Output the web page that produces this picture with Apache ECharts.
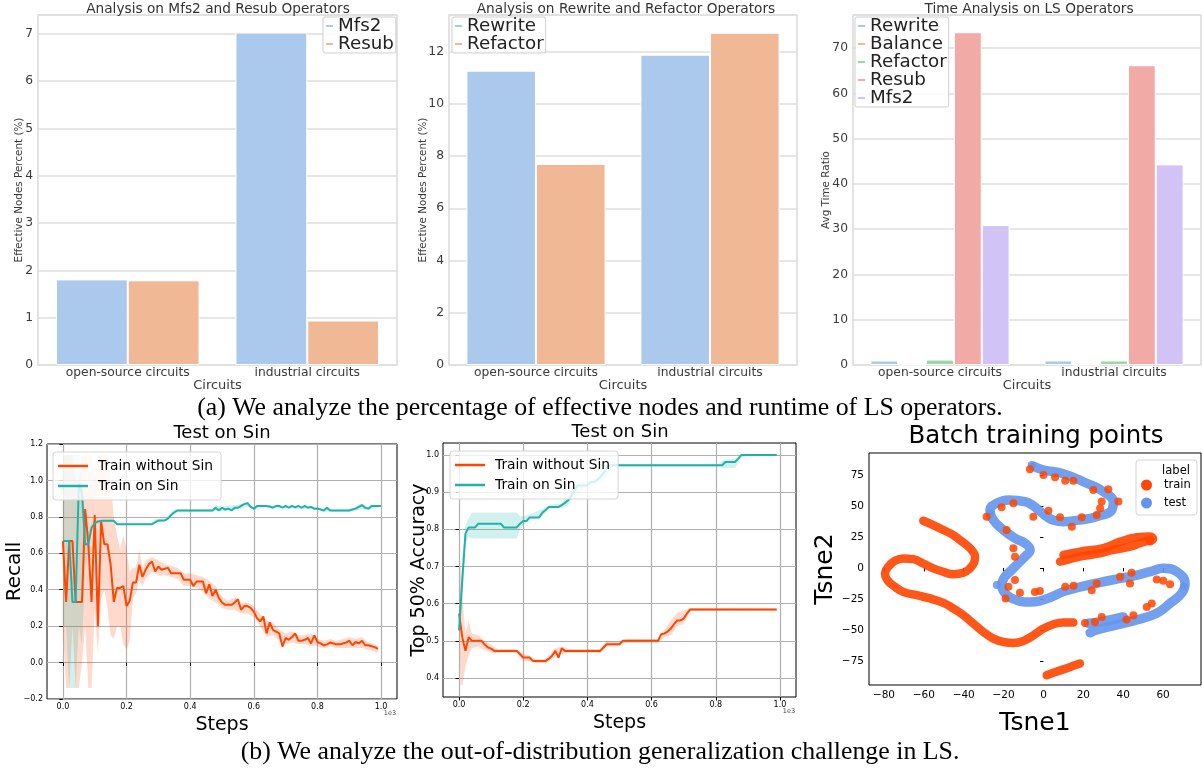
<!DOCTYPE html>
<html><head><meta charset="utf-8">
<script src="https://cdn.jsdelivr.net/npm/echarts@6/dist/echarts.min.js"></script>
<style>html,body{margin:0;padding:0;background:#fff}#c{width:1202px;height:771px}</style>
</head><body><div id="c"></div><script>
// ---------------- data ----------------
const circuits = ['open-source circuits', 'industrial circuits'];
const mfs2Pct = [1.81, 7.03];
const resubPct = [1.79, 0.94];
const rewritePct = [11.27, 11.88];
const refactorPct = [7.7, 12.72];
const timeRewrite = [1.0, 1.0];
const timeBalance = [0.05, 0.05];
const timeRefactor = [1.2, 1.0];
const timeResub = [73.5, 66.2];
const timeMfs2 = [30.9, 44.3];

const steps = [0,10,20,30,40,50,60,70,80,90,100,110,120,130,140,150,160,170,180,190,200,210,220,230,240,250,260,270,280,290,300,310,320,330,340,350,360,370,380,390,400,410,420,430,440,450,460,470,480,490,500,510,520,530,540,550,560,570,580,590,600,610,620,630,640,650,660,670,680,690,700,710,720,730,740,750,760,770,780,790,800,810,820,830,840,850,860,870,880,890,900,910,920,930,940,950,960,970,980,990,1000];
const stepTicks = [0, 0.2, 0.4, 0.6, 0.8, 1.0];

const recallWithout = [
 0.667,0.333,0.667,0.667,0.333,0.333,0.333,0.843,0.65,0.333,
 0.81,0.2,0.775,0.65,0.65,0.537,0.333,0.41,0.41,0.42,
 0.31,0.34,0.44,0.44,0.537,0.47,0.51,0.54,0.555,0.50,
 0.527,0.51,0.515,0.52,0.49,0.49,0.49,0.49,0.455,0.455,
 0.455,0.42,0.445,0.445,0.445,0.38,0.43,0.365,0.40,0.355,
 0.33,0.317,0.317,0.317,0.33,0.348,0.29,0.31,0.31,0.30,
 0.28,0.244,0.226,0.253,0.16,0.22,0.18,0.17,0.16,0.088,
 0.135,0.125,0.14,0.16,0.12,0.12,0.125,0.135,0.105,0.15,
 0.113,0.105,0.095,0.1,0.11,0.105,0.1,0.1,0.105,0.11,
 0.12,0.095,0.113,0.105,0.12,0.095,0.095,0.09,0.085,0.075];
const recallOn = [
 0.667,0.667,0.667,0.333,0.333,0.98,0.93,0.65,0.65,0.74,
 0.765,0.775,0.778,0.778,0.778,0.778,0.778,0.76,0.76,0.76,
 0.76,0.76,0.76,0.76,0.76,0.76,0.76,0.76,0.76,0.77,
 0.78,0.78,0.78,0.79,0.81,0.825,0.835,0.835,0.835,0.835,
 0.835,0.835,0.835,0.835,0.835,0.835,0.835,0.835,0.85,0.835,
 0.85,0.84,0.845,0.835,0.85,0.85,0.86,0.87,0.875,0.855,
 0.845,0.86,0.86,0.86,0.86,0.857,0.85,0.86,0.86,0.85,
 0.86,0.85,0.86,0.852,0.86,0.85,0.86,0.85,0.855,0.845,
 0.845,0.84,0.835,0.85,0.835,0.835,0.835,0.835,0.835,0.835,
 0.835,0.84,0.845,0.855,0.865,0.85,0.845,0.86,0.86,0.86,
 0.86];
// [step, low, high]
const recallWithoutBand = [[0,0.2,1.14],[10,-0.14,1.14],[20,-0.14,1.14],[30,0.2,1.14],[40,-0.14,1.0],[50,-0.14,1.0],[60,0.0,1.14],[70,0.2,1.14],[80,-0.14,1.14],[90,-0.14,1.14],[100,0.3,1.0],[110,0.05,1.14],[120,0.35,1.14],[130,0.4,1.14],[140,0.3,1.14],[150,0.15,1.0],[160,0.13,0.8],[170,0.2,0.7],[180,0.2,0.62],[190,0.1,0.7],[200,0.07,0.62],[210,0.12,0.5],[220,0.35,0.52],[230,0.38,0.52],[240,0.45,0.62],[250,0.42,0.52],[260,0.46,0.56],[280,0.5,0.58],[300,0.48,0.56],[320,0.48,0.54],[340,0.47,0.53],[360,0.46,0.52],[380,0.42,0.49],[400,0.42,0.49],[420,0.41,0.48],[440,0.39,0.47],[460,0.35,0.45],[480,0.33,0.42],[500,0.3,0.36],[520,0.29,0.34],[540,0.29,0.36],[560,0.27,0.33],[580,0.27,0.33],[600,0.25,0.31],[620,0.2,0.27],[640,0.14,0.23],[660,0.15,0.22],[680,0.12,0.18],[700,0.1,0.16],[720,0.11,0.17],[740,0.1,0.15],[760,0.1,0.15],[780,0.09,0.16],[800,0.09,0.13],[820,0.08,0.12],[840,0.09,0.13],[860,0.08,0.12],[880,0.08,0.13],[900,0.08,0.14],[920,0.08,0.13],[940,0.08,0.14],[960,0.07,0.11],[980,0.06,0.1],[990,0.05,0.09]];
const recallOnBand = [[0,0.2,1.14],[10,0.2,1.14],[20,-0.14,1.14],[30,-0.14,1.14],[40,-0.14,1.14],[50,0.2,1.14],[60,0.1,1.0],[70,0.5,0.8],[80,0.6,0.72],[90,0.72,0.77],[100,0.75,0.78],[120,0.77,0.785],[160,0.77,0.785],[170,0.755,0.765],[280,0.755,0.765],[290,0.77,0.79],[320,0.775,0.79],[340,0.8,0.825],[360,0.825,0.84],[470,0.828,0.84],[480,0.835,0.865],[500,0.83,0.855],[560,0.845,0.87],[580,0.86,0.885],[600,0.835,0.85],[620,0.852,0.865],[800,0.84,0.855],[820,0.828,0.84],[900,0.828,0.84],[920,0.835,0.855],[940,0.845,0.875],[960,0.835,0.85],[980,0.85,0.865],[1000,0.855,0.865]];

const accWithout = [
 0.573,0.51,0.473,0.51,0.5,0.5,0.5,0.5,0.49,0.482,
 0.479,0.473,0.473,0.473,0.473,0.473,0.473,0.473,0.473,0.464,
 0.455,0.455,0.455,0.446,0.446,0.446,0.446,0.446,0.452,0.46,
 0.473,0.455,0.48,0.473,0.473,0.473,0.473,0.473,0.473,0.473,
 0.473,0.473,0.473,0.473,0.473,0.482,0.491,0.491,0.491,0.491,
 0.491,0.5,0.5,0.5,0.5,0.5,0.5,0.5,0.5,0.5,
 0.5,0.5,0.5,0.518,0.52,0.525,0.533,0.545,0.555,0.555,
 0.56,0.573,0.584,0.584,0.584,0.584,0.584,0.584,0.584,0.584,
 0.584,0.584,0.584,0.584,0.584,0.584,0.584,0.584,0.584,0.584,
 0.584,0.584,0.584,0.584,0.584,0.584,0.584,0.584,0.584,0.584];
const accOn = [
 0.528,0.663,0.789,0.805,0.805,0.805,0.815,0.815,0.815,0.815,
 0.815,0.815,0.815,0.815,0.805,0.805,0.805,0.805,0.805,0.815,
 0.822,0.822,0.832,0.832,0.832,0.832,0.845,0.852,0.86,0.86,
 0.86,0.86,0.865,0.871,0.878,0.89,0.905,0.918,0.918,0.918,
 0.918,0.927,0.927,0.932,0.94,0.95,0.965,0.972,0.972,0.972,
 0.972,0.972,0.972,0.972,0.972,0.972,0.972,0.972,0.972,0.972,
 0.972,0.972,0.972,0.972,0.972,0.972,0.972,0.972,0.972,0.972,
 0.972,0.972,0.972,0.972,0.972,0.972,0.972,0.972,0.972,0.972,
 0.972,0.972,0.972,0.981,0.981,0.981,0.981,0.99,1.0,1.0,
 1.0,1.0,1.0,1.0,1.0,1.0,1.0,1.0,1.0,1.0];
const accWithoutBand = [[0,0.565,0.58],[5,0.38,0.72],[10,0.38,0.62],[20,0.43,0.52],[30,0.46,0.555],[40,0.48,0.52],[60,0.485,0.515],[80,0.475,0.5],[100,0.468,0.49],[120,0.468,0.478],[180,0.468,0.478],[200,0.445,0.465],[220,0.445,0.46],[240,0.44,0.45],[270,0.44,0.45],[290,0.45,0.47],[300,0.46,0.48],[320,0.465,0.485],[340,0.468,0.478],[440,0.468,0.478],[460,0.485,0.5],[500,0.486,0.496],[520,0.495,0.505],[620,0.495,0.505],[640,0.51,0.53],[660,0.515,0.555],[680,0.54,0.575],[700,0.545,0.58],[720,0.58,0.588],[990,0.581,0.586]];
const accOnBand = [[0,0.52,0.535],[10,0.6,0.72],[20,0.76,0.81],[30,0.78,0.83],[40,0.775,0.845],[180,0.775,0.845],[190,0.8,0.835],[200,0.81,0.835],[220,0.825,0.84],[260,0.835,0.855],[280,0.855,0.865],[320,0.857,0.87],[340,0.865,0.89],[360,0.895,0.93],[400,0.912,0.925],[440,0.925,0.95],[460,0.94,0.975],[480,0.968,0.976],[810,0.968,0.976],[820,0.965,0.985],[860,0.965,0.99],[880,0.995,1.0],[990,1.0,1.0]];
const accTicks = [0.4, 0.5, 0.6, 0.7, 0.8, 0.9, 1.0];

// t-SNE points
const trainCurveLeft = [[-60.3,38.1],[-55.3,34.6],[-50.2,30.6],[-45.2,26.5],[-41.9,22.5],[-38.5,18.4],[-36,14.4],[-34.3,9],[-34.8,4.2],[-36.9,-0.4],[-40.2,-3.9],[-45.2,-5],[-50.2,-3.1],[-55.3,-0.4],[-60.3,3.6],[-65.3,7.1],[-70.3,7.7],[-74.5,5.8],[-77.8,1],[-79.5,-4.5],[-78.3,-9.8],[-74.5,-15.2],[-70.3,-19.3],[-63.6,-22],[-56.9,-24.6],[-50.2,-28.2],[-45.2,-32.7],[-40.2,-38.1],[-35.2,-44.8],[-30.2,-51.6],[-25.1,-57],[-20.1,-59.7],[-15.1,-60.5],[-10.1,-58.9],[-5.1,-54.3],[0,-48.9],[5,-45.4],[10,-44],[15,-44]];
const trainCurveBottom = [[1.6,-86.6],[6,-84],[10,-81.8],[14,-79.5],[18.3,-77]];
const trainStrandA = [[8.3,5.1],[13,7],[18.3,9.1],[26.7,11.3],[35,14.5],[43.4,17.2],[48.4,19.9],[53.5,22.6]];
const trainStrandB = [[10,10.5],[18.3,13.2],[30,15.9],[38.4,21.2],[46.8,24.7],[53.5,25.3],[55,23.5],[53.5,21.5]];
const trainDots = [[-6.8,79.6],[0,75],[5.8,73.1],[10.9,70.4],[15,70.4],[25,62.9],[29.2,53.5],[28.4,48.1],[37.6,53.5],[32.5,63.4],[26.7,42.7],[19.2,40.8],[14.2,33.3],[8.3,40.8],[2.5,46.2],[-5.1,41.3],[-15.1,52.1],[-21,48.9],[-28.5,41.3],[-18.5,30.6],[-15.1,15.8],[-14.3,9],[-14.3,-9.8],[-11.8,-20.1],[-4.3,-19.3],[-1.8,-18.5],[10.9,-15.2],[15.1,-14.4],[24.2,-17.9],[26.7,-12.5],[38.4,-7.1],[43.4,-12.5],[44.2,-3.9],[56.8,-9.3],[60.1,-10.4],[63.5,-13.1],[51.8,-31.4],[54.3,-28.7],[45.1,-38.1],[41.7,-41.6],[29.2,-39.5],[25.8,-43.5],[20.8,-44.3],[-19,-24.6],[-17.6,-15.2]];
const testCurveMain = [[-5,82],[0,79],[10,76],[21.7,68.3],[30,61.6],[35,53],[34,46],[28,42],[23.4,40],[15,38],[10,37.3],[5,38.5],[1.6,41.4],[-2,46],[-5.5,50.5],[-9.3,53.5],[-17.6,54.8],[-23.4,52.2],[-26.8,46.8],[-25.2,38.7],[-20.1,30.6],[-14.3,23.9],[-9.3,19.9],[-6.7,14.5],[-9.3,9.1],[-12.6,3.8],[-15.9,-1.6],[-19.3,-7],[-21,-14],[-19.5,-20],[-15.9,-24.4],[-9.3,-27.5],[-4.2,-27.2],[3,-24],[10,-19.1],[18,-15.5],[26.7,-12.3],[35,-9.5],[43.4,-7],[53.5,-3],[60.1,-0.3],[66.8,-3],[71,-12.3],[69.3,-20.4],[63.5,-28.5],[56.8,-36.5],[46.8,-41.9],[36.8,-46],[26.7,-50],[23.4,-52.2]];
const testStrand = [[22.5,-44.6],[28,-43.5],[33.4,-41.9],[40,-39.5]];
const testDots = [[-23.4,-13.7],[-5.9,83.1],[70.5,-15],[-26.8,44]];
const tsneXTicks = [-80, -60, -40, -20, 0, 20, 40, 60];
const tsneYTicks = [-75, -50, -25, 0, 25, 50, 75];

// ---------------- chart ----------------
const F = 'DejaVu Sans';
const C = {blue:'#abc9ec', orange:'#f0b894', green:'#9ad7a7', red:'#f1aaa6', purple:'#d1c3f6'};
const ORG = '#ff4500', TEAL = '#20b2aa';
const minus = s => String(s).replace('-', '\u2212');
const strip = n => n.split('|')[0];

const chart = echarts.init(document.getElementById('c'), null, {renderer:'canvas', width:1202, height:771});

const grids = [
  {left:38, top:15, width:359, height:350},
  {left:449, top:15, width:348, height:350},
  {left:853, top:15, width:348, height:350},
  {left:47, top:444, width:350, height:255},
  {left:443, top:443, width:353, height:254},
  {left:869, top:453, width:332, height:232}
].map((g, i) => Object.assign({show:true, backgroundColor:'#fff', borderColor: i < 3 ? '#d0d0d0' : '#000', borderWidth: i < 3 ? 1.2 : 1, outerBoundsMode:'none', containLabel:false}, g));

function topX(i) {
  return {type:'category', gridIndex:i, data:circuits, axisLine:{show:false}, axisTick:{show:false},
    axisLabel:{fontFamily:F, fontSize:12.3, color:'#3a3a3a', margin:2},
    name:'Circuits', nameLocation:'middle', nameGap:14, nameMoveOverlap:false, nameTextStyle:{fontFamily:F, fontSize:13, color:'#3a3a3a'}};
}
function topY(i, max, interval, name, gap) {
  return {type:'value', gridIndex:i, min:0, max:max, interval:interval, axisLine:{show:false}, axisTick:{show:false},
    axisLabel:{fontFamily:F, fontSize:12.3, color:'#3a3a3a', margin:5, showMaxLabel:false},
    splitLine:{lineStyle:{color:'#dedede', width:1.5}},
    name:name, nameLocation:'middle', nameGap:gap, nameMoveOverlap:false, nameTextStyle:{fontFamily:F, fontSize:10.4, color:'#3a3a3a'}};
}
const blackAxis = {axisLine:{show:false}, axisTick:{show:true, inside:false, length:3.5, lineStyle:{color:'#000', width:1}}};
function stepX(i) {
  return Object.assign({type:'value', gridIndex:i, min:-0.05, max:1.05,
    axisLabel:{fontFamily:F, fontSize:8, color:'#000', margin:4, customValues:stepTicks, formatter:v => v.toFixed(1)},
    splitLine:{show:true, lineStyle:{color:'#b0b0b0', width:1.2}},
    name:'Steps', nameLocation:'middle', nameGap:16.5, nameMoveOverlap:false, nameTextStyle:{fontFamily:F, fontSize:19, color:'#000'}}, blackAxis,
    {axisTick:{show:true, inside:false, length:3.5, customValues:stepTicks, lineStyle:{color:'#000'}}});
}

const xAxes = [topX(0), topX(1), topX(2), stepX(3), stepX(4),
  Object.assign({type:'value', gridIndex:5, min:-87.5, max:79,
    axisLabel:{fontFamily:F, fontSize:10.5, color:'#000', margin:5, customValues:tsneXTicks, formatter:v => minus(v)},
    splitLine:{show:false}, name:'Tsne1', nameLocation:'middle', nameGap:26, nameMoveOverlap:false, nameTextStyle:{fontFamily:F, fontSize:25, color:'#000'}}, blackAxis,
    {axisTick:{show:true, length:3.5, customValues:tsneXTicks, lineStyle:{color:'#000'}}})];

const yAxes = [
  topY(0, 7.4, 1, 'Effective Nodes Percent (%)', 14),
  topY(1, 13.4, 2, 'Effective Nodes Percent (%)', 21),
  topY(2, 77.3, 10, 'Avg Time Ratio', 22),
  Object.assign({type:'value', gridIndex:3, min:-0.2, max:1.2, interval:0.2,
    axisLabel:{fontFamily:F, fontSize:8, color:'#000', margin:4, formatter:v => minus(v.toFixed(1))},
    splitLine:{show:true, lineStyle:{color:'#b0b0b0', width:1.2}},
    name:'Recall', nameLocation:'middle', nameGap:22, nameMoveOverlap:false, nameTextStyle:{fontFamily:F, fontSize:20, color:'#000'}}, blackAxis),
  Object.assign({type:'value', gridIndex:4, min:0.349, max:1.032,
    axisLabel:{fontFamily:F, fontSize:8, color:'#000', margin:4, customValues:accTicks, formatter:v => v.toFixed(1)},
    splitLine:{show:true, lineStyle:{color:'#b0b0b0', width:1.2}},
    name:'Top 50% Accuracy', nameLocation:'middle', nameGap:14, nameMoveOverlap:false, nameTextStyle:{fontFamily:F, fontSize:19, color:'#000'}}, blackAxis,
    {axisTick:{show:true, length:3.5, customValues:accTicks, lineStyle:{color:'#000'}}}),
  Object.assign({type:'value', gridIndex:5, min:-94.4, max:92.7,
    axisLabel:{fontFamily:F, fontSize:10.5, color:'#000', margin:5, customValues:tsneYTicks, formatter:v => minus(v)},
    splitLine:{show:false}, name:'Tsne2', nameLocation:'middle', nameGap:31, nameMoveOverlap:false, nameTextStyle:{fontFamily:F, fontSize:25, color:'#000'}}, blackAxis,
    {axisTick:{show:true, length:3.5, customValues:tsneYTicks, lineStyle:{color:'#000'}}})
];

function bar(name, gi, data, color) {
  return {type:'bar', name:name, xAxisIndex:gi, yAxisIndex:gi, data:data, barGap:'0%', barCategoryGap:'20%',
    itemStyle:{color:color, borderColor:'#fff', borderWidth:1}, silent:true};
}
function line(name, gi, values, color) {
  return {type:'line', name:name, xAxisIndex:gi, yAxisIndex:gi, data:values.map((v, i) => [steps[i] / 1000, v]),
    showSymbol:false, symbol:'none', lineStyle:{color:color, width:2}, itemStyle:{color:color}, z:4, silent:true};
}
function band(name, gi, b, color) {
  return {type:'custom', name:name, xAxisIndex:gi, yAxisIndex:gi, data:[[0.5, 0.5]], silent:true, z:1, clip:true,
    renderItem: (params, api) => {
      const pts = [];
      b.forEach(r => pts.push(api.coord([r[0] / 1000, r[2]])));
      for (let k = b.length - 1; k >= 0; k--) pts.push(api.coord([b[k][0] / 1000, b[k][1]]));
      return {type:'polygon', shape:{points:pts}, style:{fill:color}};
    }};
}
function curve(name, pts, color, w) {
  return {type:'line', name:name, xAxisIndex:5, yAxisIndex:5, data:pts, smooth:0.45, showSymbol:false, symbol:'none',
    lineStyle:{color:color, width:w, cap:'round', join:'round', opacity:0.9}, itemStyle:{color:color}, z:2, silent:true};
}
function dots(name, pts, color, z) {
  return {type:'scatter', name:name, xAxisIndex:5, yAxisIndex:5, data:pts, symbolSize:8,
    itemStyle:{color:color, opacity:0.85}, z:z, silent:true};
}

const series = [
  bar('Mfs2|a', 0, mfs2Pct, C.blue), bar('Resub|a', 0, resubPct, C.orange),
  bar('Rewrite|b', 1, rewritePct, C.blue), bar('Refactor|b', 1, refactorPct, C.orange),
  bar('Rewrite|c', 2, timeRewrite, C.blue), bar('Balance|c', 2, timeBalance, C.orange),
  bar('Refactor|c', 2, timeRefactor, C.green), bar('Resub|c', 2, timeResub, C.red), bar('Mfs2|c', 2, timeMfs2, C.purple),
  line('Train without Sin', 3, recallWithout, ORG), line('Train on Sin', 3, recallOn, TEAL),
  band('bw3', 3, recallWithoutBand, 'rgba(255,69,0,0.2)'), band('bo3', 3, recallOnBand, 'rgba(32,178,170,0.2)'),
  line('Train without Sin|2', 4, accWithout, ORG), line('Train on Sin|2', 4, accOn, TEAL),
  band('bw4', 4, accWithoutBand, 'rgba(255,69,0,0.2)'), band('bo4', 4, accOnBand, 'rgba(32,178,170,0.2)'),
  dots('train', trainDots, ORG, 3),
  curve('train', trainCurveLeft, ORG, 8.5), curve('train', trainCurveBottom, ORG, 8.5),
  curve('train', trainStrandA, ORG, 8.5), curve('train', trainStrandB, ORG, 8.5),
  dots('test', testDots, '#6495ed', 2),
  curve('test', testCurveMain, '#6495ed', 9.5), curve('test', testStrand, '#6495ed', 9.5)
];

function topLegend(names, left) {
  return {data:names, left:left, top:17, orient:'vertical', icon:'rect', itemWidth:7, itemHeight:2, itemGap:0,
    padding:[0, 2, 0, 3], selectedMode:false, formatter:strip, z:10,
    itemStyle:{borderWidth:0},
    textStyle:{fontFamily:F, fontSize:18.3, color:'#222', lineHeight:17.5},
    borderColor:'#cfcfcf', borderWidth:1, borderRadius:2, backgroundColor:'rgba(255,255,255,0.85)'};
}
function lineLegend(names, left, top) {
  return {data:names, left:left, top:top, orient:'vertical', icon:'rect', itemWidth:30, itemHeight:2.5, itemGap:6,
    padding:[7, 8, 7, 5], selectedMode:false, formatter:strip, z:10,
    textStyle:{fontFamily:F, fontSize:13.8, color:'#000', padding:[0, 0, 0, 5]},
    borderColor:'#d5d5d5', borderWidth:1, borderRadius:3, backgroundColor:'rgba(255,255,255,0.8)'};
}

const legends = [
  topLegend(['Mfs2|a', 'Resub|a'], 323),
  topLegend(['Rewrite|b', 'Refactor|b'], 452),
  topLegend(['Rewrite|c', 'Balance|c', 'Refactor|c', 'Resub|c', 'Mfs2|c'], 855),
  lineLegend(['Train without Sin', 'Train on Sin'], 53, 452),
  lineLegend(['Train without Sin|2', 'Train on Sin|2'], 450, 451),
  {data:['train', 'test'], left:1141, top:479, orient:'vertical', icon:'circle', itemWidth:11, itemHeight:11, itemGap:6,
    padding:0, selectedMode:false, z:10, itemStyle:{opacity:1},
    textStyle:{fontFamily:F, fontSize:11.5, color:'#000', padding:[0, 0, 0, 7]}}
];

function fitSize(text, family, target) {
  const ctx = document.createElement('canvas').getContext('2d');
  ctx.font = '100px "' + family + '"';
  return 100 * target / ctx.measureText(text).width;
}
const capA = '(a) We analyze the percentage of effective nodes and runtime of LS operators.';
const capB = '(b) We analyze the out-of-distribution generalization challenge in LS.';
const SERIF = 'Liberation Serif';
const capSize = fitSize(capA, SERIF, 806);

function txt(t, x, y, size, color, family, z) {
  return {type:'text', silent:true, z:z || 100, style:{text:t, x:x, y:y, fontSize:size, fontFamily:family || F, fill:color || '#000', align:'center', verticalAlign:'middle'}};
}

const graphics = [
  txt('Analysis on Mfs2 and Resub Operators', 218, 9, 13.7, '#333'),
  txt('Analysis on Rewrite and Refactor Operators', 626, 9, 13.7, '#333'),
  txt('Time Analysis on LS Operators', 1029, 9, 13.7, '#333'),
  txt(capA, 600, 408, capSize, '#000', SERIF),
  txt('Test on Sin', 222, 433, 18, '#000'),
  txt('Test on Sin', 620, 432, 18, '#000'),
  txt('Batch training points', 1036, 437, 24.4, '#000'),
  txt('1e3', 390, 713, 6.5, '#444'),
  txt('1e3', 789, 711, 6.5, '#444'),
  txt(capB, 600, 752, capSize, '#000', SERIF),
  {type:'rect', silent:true, z:4, shape:{x:1136, y:460, width:61, height:55, r:3}, style:{fill:'rgba(255,255,255,0.85)', stroke:'#d5d5d5', lineWidth:1}},
  txt('label', 1176, 471, 11.5, '#000', F, 5)
];

chart.setOption({
  animation:false,
  backgroundColor:'#fff',
  grid:grids, xAxis:xAxes, yAxis:yAxes, series:series, legend:legends, graphic:graphics
});
</script></body></html>
